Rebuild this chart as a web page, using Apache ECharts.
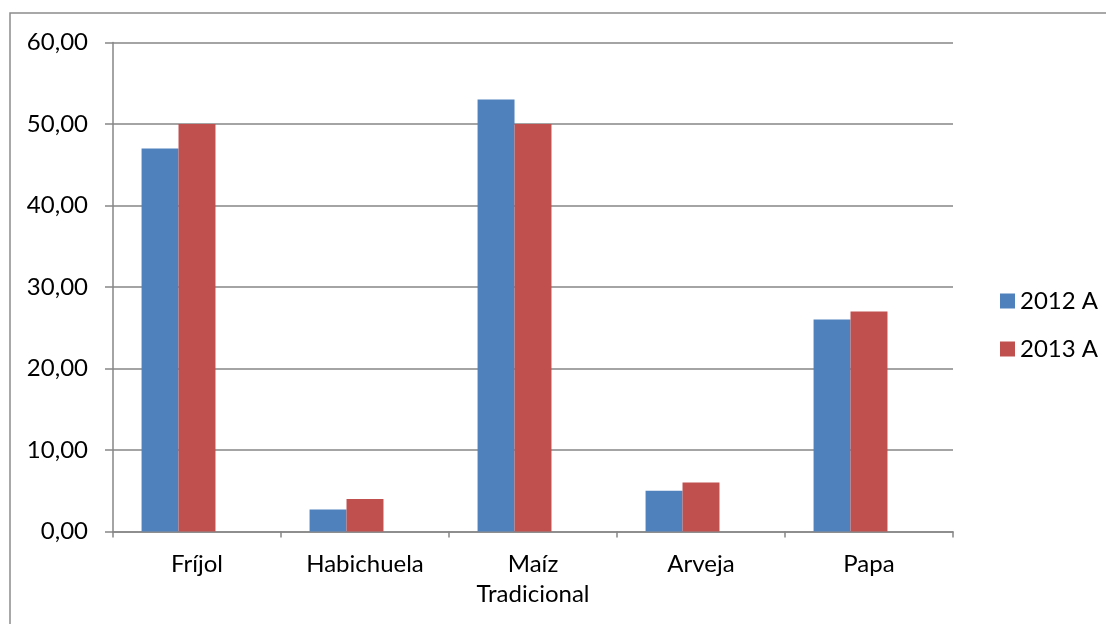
<!DOCTYPE html>
<html>
<head>
<meta charset="utf-8">
<script src="https://cdn.jsdelivr.net/npm/echarts@6/dist/echarts.min.js"></script>
<style>
html,body{margin:0;padding:0;background:#fff;}
#chart{width:1106px;height:624px;}
</style>
</head>
<body>
<div id="chart"></div>
<script>
const categories = ['Fríjol', 'Habichuela', 'Maíz\nTradicional', 'Arveja', 'Papa'];
const seriesNames = ['2012 A', '2013 A'];
const values2012 = [47.0, 2.7, 53.0, 5.0, 26.0];
const values2013 = [50.0, 4.0, 50.0, 6.0, 27.0];
const emptySeries = [null, null, null, null, null];

const FONT = 'Lato';
const FS = 24;
const chart = echarts.init(document.getElementById('chart'));
chart.setOption({
  animation: false,
  backgroundColor: '#fff',
  textStyle: { fontFamily: FONT },
  graphic: [{
    type: 'rect',
    shape: { x: 10, y: 13, width: 1110, height: 640 },
    style: { fill: 'none', stroke: '#8c8c8c', lineWidth: 1.5 },
    silent: true
  }],
  grid: { left: 113, right: 153, top: 42.5, bottom: 92.5, containLabel: false },
  legend: {
    data: seriesNames,
    orient: 'vertical',
    left: 995,
    top: 282,
    icon: 'rect',
    itemWidth: 15,
    itemHeight: 15,
    itemGap: 20,
    textStyle: { fontFamily: FONT, fontSize: FS, color: '#000', lineHeight: 28 }
  },
  xAxis: {
    type: 'category',
    data: categories,
    axisLine: { lineStyle: { color: '#868686', width: 1.5 } },
    axisTick: { show: true, length: 6, alignWithLabel: false, lineStyle: { color: '#868686', width: 1.5 } },
    axisLabel: { fontFamily: FONT, fontSize: FS, color: '#000', margin: 18, lineHeight: 30, interval: 0 }
  },
  yAxis: {
    type: 'value',
    min: 0,
    max: 60,
    interval: 10,
    axisLine: { show: true, lineStyle: { color: '#868686', width: 1.5 } },
    axisTick: { show: true, length: 8, lineStyle: { color: '#868686', width: 1.5 } },
    axisLabel: {
      fontFamily: FONT, fontSize: FS, color: '#000', margin: 25,
      formatter: v => v.toFixed(2).replace('.', ',')
    },
    splitLine: { lineStyle: { color: '#868686', width: 1.5 } }
  },
  series: [
    { name: seriesNames[0], type: 'bar', data: values2012, barGap: '0%', barCategoryGap: '34%',
      itemStyle: { color: '#4F81BD' } },
    { name: seriesNames[1], type: 'bar', data: values2013, barGap: '0%', barCategoryGap: '34%',
      itemStyle: { color: '#C0504D' } },
    { name: 'empty', type: 'bar', data: emptySeries, barGap: '0%', barCategoryGap: '34%',
      itemStyle: { color: '#9BBB59' } }
  ]
});
</script>
</body>
</html>
